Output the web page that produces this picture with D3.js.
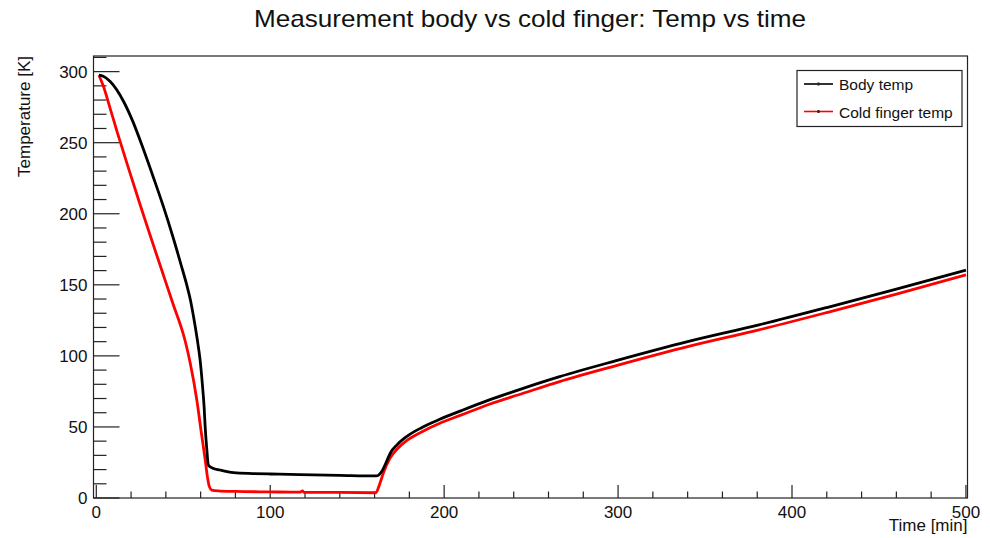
<!DOCTYPE html>
<html>
<head>
<meta charset="utf-8">
<script src="https://cdn.jsdelivr.net/npm/d3@7"></script>
<style>
  body { margin: 0; background: #fff; }
  text { font-family: "Liberation Sans", Arial, sans-serif; fill: #111; }
</style>
</head>
<body>
<script>
// values (time in min, temperature in K)
var bodyTime = [1.5, 4, 8, 15.7, 21, 27.2, 33, 38.6, 44, 49, 52, 54, 56, 58, 59.7, 61, 62, 62.6, 63.5, 64.5, 67, 71, 79, 90, 100, 117, 140, 161, 164, 167, 169, 173, 178.4, 187, 197.5, 210, 226, 245, 266.4, 300, 340, 381, 420, 460, 500];
var bodyTemp = [297.5, 296.8, 293, 279, 265, 245, 225, 205, 184, 163, 150, 140, 127, 112, 97, 80, 64, 50, 35, 23, 21, 19.7, 17.8, 17.2, 16.9, 16.4, 15.9, 15.5, 18.5, 26, 31.5, 37.5, 43.2, 49.5, 55.4, 61.5, 69, 77, 85.4, 97, 110, 121.8, 134, 147, 160.3];

var coldTime = [1.5, 4, 8, 11.9, 18, 25.3, 32, 38, 44, 51, 54, 57.8, 60.5, 62.6, 64, 65, 66.4, 70, 80, 100, 117, 118.6, 119.3, 140, 160.7, 163, 165, 168.8, 173, 178.4, 187, 197.5, 210, 226, 245, 266.4, 300, 340, 381, 420, 460, 500];
var coldTemp = [297.5, 290, 274, 258, 234, 206, 181, 159, 137, 111, 95, 69, 45, 27, 14, 8, 5.6, 5, 4.6, 4.3, 4.1, 5.0, 4.0, 3.9, 3.7, 10, 17.4, 28, 34.5, 40.4, 46.5, 52.6, 58.5, 66, 73.5, 81.9, 93.5, 106.5, 118.3, 130.5, 143.5, 157];

var xTicks = [0, 100, 200, 300, 400, 500];
var yTicks = [0, 50, 100, 150, 200, 250, 300];
var xMinor = d3.range(0, 501, 20);
var yMinor = d3.range(0, 311, 10);

var seriesNames = ["Body temp", "Cold finger temp"];
var seriesColors = ["#000000", "#ff0000"];

var W = 990, H = 538;
var fLeft = 93.5, fRight = 967.5, fTop = 56, fBottom = 498;

var svg = d3.select("body").append("svg")
    .attr("width", W)
    .attr("height", H);

var x = d3.scaleLinear().domain([-1.6, 500.9]).range([fLeft, fRight]);
var y = d3.scaleLinear().domain([0, 311]).range([fBottom, fTop]);

// title
svg.append("text")
    .attr("x", 530)
    .attr("y", 27)
    .attr("text-anchor", "middle")
    .attr("textLength", 552)
    .attr("lengthAdjust", "spacingAndGlyphs")
    .style("font-size", "24px")
    .text("Measurement body vs cold finger: Temp vs time");

// frame
svg.append("rect")
    .attr("x", fLeft).attr("y", fTop)
    .attr("width", fRight - fLeft).attr("height", fBottom - fTop)
    .attr("fill", "none")
    .attr("stroke", "#222")
    .attr("stroke-width", 1.2);

// x axis ticks (pointing up into the frame)
var gx = svg.append("g");
gx.selectAll("line").data(xMinor).enter().append("line")
    .attr("x1", function(d) { return x(d); }).attr("x2", function(d) { return x(d); })
    .attr("y1", fBottom).attr("y2", function(d) { return fBottom - (d % 100 === 0 ? 13 : 6.5); })
    .attr("stroke", "#222").attr("stroke-width", 1.2);
gx.selectAll("text").data(xTicks).enter().append("text")
    .attr("x", function(d) { return x(d); })
    .attr("y", 518)
    .attr("text-anchor", "middle")
    .style("font-size", "17px")
    .text(function(d) { return d; });
svg.append("text")
    .attr("x", fRight)
    .attr("y", 531)
    .attr("text-anchor", "end")
    .style("font-size", "17px")
    .text("Time [min]");

// y axis ticks (pointing right into the frame)
var gy = svg.append("g");
gy.selectAll("line").data(yMinor).enter().append("line")
    .attr("y1", function(d) { return y(d); }).attr("y2", function(d) { return y(d); })
    .attr("x1", fLeft).attr("x2", function(d) { return fLeft + (d % 50 === 0 ? 26 : 13); })
    .attr("stroke", "#222").attr("stroke-width", 1.2);
gy.selectAll("text").data(yTicks).enter().append("text")
    .attr("x", 87.5)
    .attr("y", function(d) { return y(d) + 6; })
    .attr("text-anchor", "end")
    .style("font-size", "17px")
    .text(function(d) { return d; });
svg.append("text")
    .attr("transform", "translate(30," + fTop + ")rotate(-90)")
    .attr("text-anchor", "end")
    .style("font-size", "17px")
    .text("Temperature [K]");

// curves
var line = d3.line()
    .x(function(d) { return x(d[0]); })
    .y(function(d) { return y(d[1]); })
    .curve(d3.curveMonotoneX);

var series = [d3.zip(bodyTime, bodyTemp), d3.zip(coldTime, coldTemp)];
svg.append("clipPath").attr("id", "clip")
  .append("rect").attr("x", fLeft).attr("y", fTop).attr("width", fRight - fLeft).attr("height", fBottom - fTop);

svg.append("g").attr("clip-path", "url(#clip)")
  .selectAll("path").data(series.slice().reverse()).enter().append("path")
    .attr("d", line)
    .attr("fill", "none")
    .attr("stroke", function(d, i) { return seriesColors[1 - i]; })
    .attr("stroke-width", 2.8)
    .attr("stroke-linejoin", "round");

// legend
var lg = svg.append("g");
lg.append("rect")
    .attr("x", 797).attr("y", 70.5)
    .attr("width", 165).attr("height", 56)
    .attr("fill", "#fff")
    .attr("stroke", "#222")
    .attr("stroke-width", 1.2);
var entry = lg.selectAll("g").data(seriesNames).enter().append("g")
    .attr("transform", function(d, i) { return "translate(0," + (84 + i * 27.5) + ")"; });
entry.append("line")
    .attr("x1", 804).attr("x2", 833)
    .attr("stroke", function(d, i) { return seriesColors[i]; })
    .attr("stroke-width", 1.6);
entry.append("rect")
    .attr("x", 817.5).attr("y", -1.5).attr("width", 2).attr("height", 3)
    .attr("fill", "#222");
entry.append("text")
    .attr("x", 839)
    .attr("y", 6)
    .style("font-size", "15.5px")
    .text(function(d) { return d; });
</script>
</body>
</html>
